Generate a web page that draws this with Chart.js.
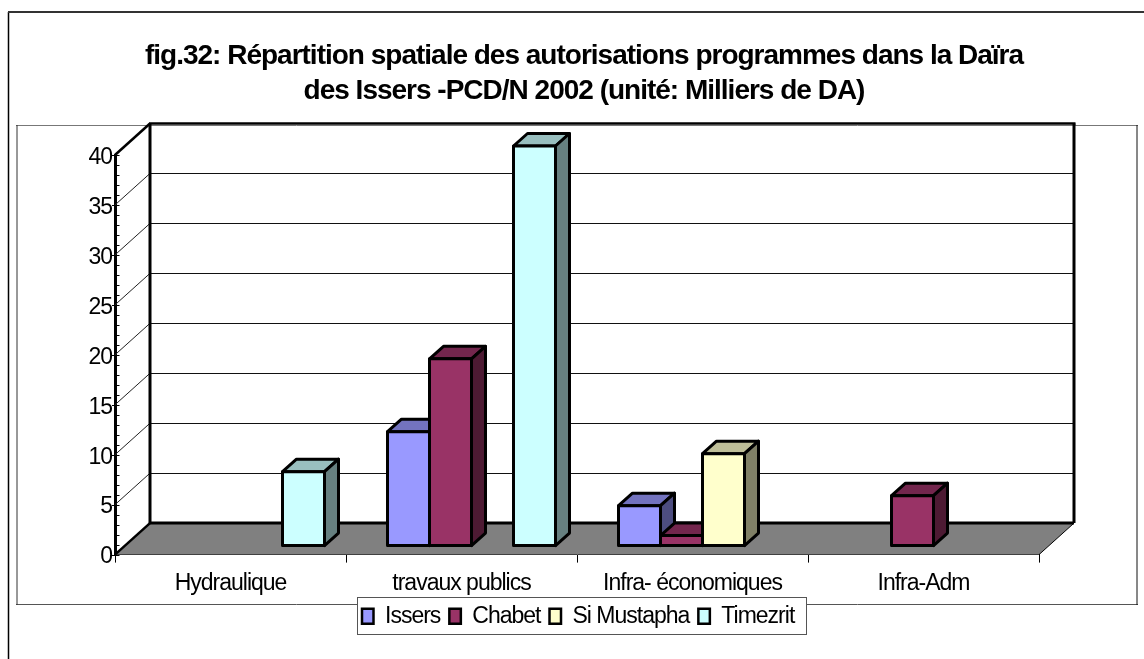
<!DOCTYPE html>
<html><head><meta charset="utf-8">
<style>html,body{margin:0;padding:0;background:#fff}canvas{display:block}</style>
<script src="https://cdn.jsdelivr.net/npm/chart.js@4/dist/chart.umd.js"></script>
</head><body><canvas id="c" width="1144" height="659"></canvas>
<script>
const titleLines = ["fig.32: Répartition spatiale des autorisations programmes dans la Daïra","des Issers -PCD/N 2002 (unité: Milliers de DA)"];
const categories = ["Hydraulique","travaux publics","Infra- économiques","Infra-Adm"];
const issers = [null,11.4,4,null];
const chabet = [null,18.7,1,5];
const siMustapha = [null,null,9.2,null];
const timezrit = [7.4,40,null,null];
const seriesNames = ["Issers","Chabet","Si Mustapha","Timezrit"];
const seriesColors = ["#9999FF","#993366","#FFFFCC","#CCFFFF"];

const wall = {dx:35, dy:-31.5};
const barFront = {dx:10, dy:-9};
const barDepth = {dx:14, dy:-12.5};

function shade(hex,f){
  const n=parseInt(hex.slice(1),16);
  return `rgb(${Math.round((n>>16&255)*f)},${Math.round((n>>8&255)*f)},${Math.round((n&255)*f)})`;
}
function poly(ctx,pts,fill,stroke,lw){
  ctx.beginPath();pts.forEach((p,i)=>i?ctx.lineTo(p[0],p[1]):ctx.moveTo(p[0],p[1]));ctx.closePath();
  if(fill){ctx.fillStyle=fill;ctx.fill();}
  if(stroke){ctx.strokeStyle=stroke;ctx.lineWidth=lw;ctx.lineJoin='round';ctx.stroke();}
}
function line(ctx,x1,y1,x2,y2,lw,col){
  ctx.beginPath();ctx.moveTo(x1,y1);ctx.lineTo(x2,y2);ctx.lineWidth=lw;ctx.strokeStyle=col||'#000';ctx.stroke();
}
const spacing='-1px';
const look={
  id:'look',
  beforeInit(chart){chart.ctx.letterSpacing=spacing;},
  beforeLayout(chart){chart.ctx.letterSpacing=spacing;},
  afterLayout(chart){
    chart.titleBlock.left=0;chart.titleBlock.right=1168;
    const p=chart.legend.options.labels.padding;
    const w=chart.legend.width;
    chart.legend.left=362-p;chart.legend.right=chart.legend.left+w;chart.legend.top=618.5-13.8-p;
  },
  beforeDraw(chart){
    const c=chart.ctx;c.save();c.letterSpacing=spacing;
    c.fillStyle='#fff';c.fillRect(0,0,1144,659);
    line(c,8.5,12,8.5,659,1.5,'#000');line(c,8,12,1144,12,2,'#333');
    line(c,16,125.5,1138,125.5,1,'#777');line(c,16,604.5,1138,604.5,1,'#555');
    line(c,17,125,17,605,1,'#333');line(c,1137,125,1137,605,1,'#111');
    c.fillStyle='#fff';c.fillRect(357,597,449,37);
    c.strokeStyle='#555';c.lineWidth=1;c.strokeRect(357.5,597.5,449,37);
    c.restore();
    c.letterSpacing=spacing;
  },
  beforeDatasetsDraw(chart){
    const c=chart.ctx,a=chart.chartArea,y=chart.scales.y;
    const L=a.left,R=a.right,B=a.bottom,T=a.top,dx=wall.dx,dy=wall.dy;
    c.save();
    poly(c,[[L,B],[L+dx,B+dy],[R+dx,B+dy],[R,B]],'#808080');
    y.ticks.forEach(t=>{
      if(t.value%5!==0||t.value===0||t.value===40)return;
      const py=y.getPixelForValue(t.value);
      const by=Math.round(py+dy)+0.5;
      line(c,L+dx,by,R+dx,by,1,'#111');
      line(c,L,py,L+dx,py+dy,1,'#222');
    });
    line(c,L+dx,T+dy,L+dx,B+dy,3);
    line(c,R+dx,T+dy,R+dx,B+dy,3);
    line(c,L+dx-1,T+dy,R+dx+1.5,T+dy,2.5);
    line(c,L+dx,B+dy,R+dx,B+dy,3);
    line(c,L,T,L+dx,T+dy,2.5);
    line(c,L,B,L+dx,B+dy,2.5);
    line(c,R,B,R+dx,B+dy,1);
    c.restore();
  },
  beforeDatasetDraw(){return false;},
  afterDatasetsDraw(chart){
    const c=chart.ctx,a=chart.chartArea,y=chart.scales.y;
    c.save();
    y.ticks.forEach(t=>{
      const py=Math.round(y.getPixelForValue(t.value))+0.5;
      line(c,a.left,py,a.left+4.5,py,1);
      if(t.value%5===0)line(c,a.left-3,py,a.left,py,1);
    });
    chart.data.datasets.forEach((ds,i)=>{
      chart.getDatasetMeta(i).data.forEach((el,j)=>{
        if(ds.data[j]==null)return;
        const l=el.x-el.width/2+barFront.dx,r=el.x+el.width/2+barFront.dx;
        const t=el.y+barFront.dy,b=el.base+barFront.dy;
        const ox=barDepth.dx,oy=barDepth.dy,col=ds.backgroundColor;
        poly(c,[[l,t],[l+ox,t+oy],[r+ox,t+oy],[r,t]],shade(col,.75),'#000',3);
        poly(c,[[r,t],[r+ox,t+oy],[r+ox,b+oy],[r,b]],shade(col,.5),'#000',3);
        poly(c,[[l,t],[r,t],[r,b],[l,b]],col,'#000',3);
      });
    });
    c.restore();
  }
};
Chart.defaults.font.family='"Liberation Sans"';
Chart.defaults.color='#000';
const seriesValues=[issers,chabet,siMustapha,timezrit];
new Chart(document.getElementById('c'),{
  type:'bar',
  data:{labels:categories,datasets:seriesNames.map((n,i)=>({label:n,data:seriesValues[i],backgroundColor:seriesColors[i],borderColor:'#000',borderWidth:2.5}))},
  options:{
    responsive:false,animation:false,
    layout:{padding:{left:0,top:0,right:105,bottom:0}},
    categoryPercentage:168/231,barPercentage:1,
    scales:{
      x:{grid:{drawOnChartArea:false,drawTicks:true,tickLength:8,color:'#000',lineWidth:1},
         border:{color:'#000',width:1},
         ticks:{font:{size:23},padding:7.5,maxRotation:0,autoSkip:false},
         afterFit(s){s.height=62.4;}},
      y:{min:0,max:40,grid:{display:false,drawTicks:false},
         border:{color:'#000',width:3},
         ticks:{stepSize:1,autoSkip:false,font:{size:23},padding:3,labelOffset:2.5,callback:v=>v%5===0?String(v):''},
         afterFit(s){s.width=115;}}
    },
    plugins:{
      tooltip:{enabled:false},
      title:{display:true,text:titleLines,font:{size:28,weight:'bold',lineHeight:1.25},color:'#000',padding:{top:38.5,bottom:46.5}},
      legend:{position:'bottom',align:'start',labels:{font:{size:23},boxWidth:11.5,boxHeight:15,padding:9,color:'#000'}}
    }
  },
  plugins:[look]
});
</script></body></html>
